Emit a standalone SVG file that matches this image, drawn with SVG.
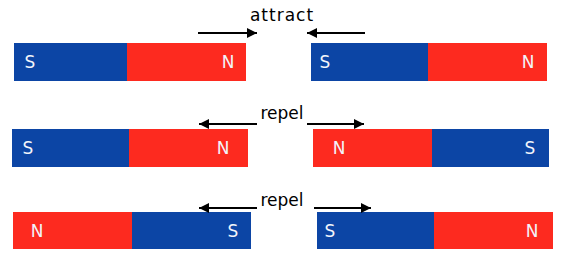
<svg xmlns="http://www.w3.org/2000/svg" width="564" height="265" viewBox="0 0 564 265">
<style>
.b{fill:#0c45a5}
.r{fill:#fd2a1f}
.p{fill:#f2f4fa;font-family:"DejaVu Sans","Liberation Sans",sans-serif;font-size:17px;text-anchor:middle}
.lbl{fill:#000;font-family:"DejaVu Sans","Liberation Sans",sans-serif;font-size:17px;text-anchor:middle}
.a{stroke:#000;stroke-width:2;fill:none;marker-end:url(#ah)}
</style>
<defs>
<marker id="ah" viewBox="0 0 10 10" refX="10" refY="5" markerWidth="5" markerHeight="5" orient="auto" markerUnits="strokeWidth">
<path d="M0,0 L10,5 L0,10 Z" fill="#000"/>
</marker>
</defs>
<g id="magnet-1a"><rect class="b" x="14" y="43" width="113" height="38"/><rect class="r" x="127" y="43" width="119" height="38"/><text class="p" x="30" y="68">S</text><text class="p" x="228" y="68">N</text></g>
<g id="magnet-1b"><rect class="b" x="311" y="43" width="117" height="38"/><rect class="r" x="428" y="43" width="119" height="38"/><text class="p" x="325" y="68">S</text><text class="p" x="528" y="68">N</text></g>
<g id="magnet-2a"><rect class="b" x="12" y="129" width="117" height="38"/><rect class="r" x="129" y="129" width="119" height="38"/><text class="p" x="28" y="154">S</text><text class="p" x="223" y="154">N</text></g>
<g id="magnet-2b"><rect class="r" x="313" y="129" width="119" height="38"/><rect class="b" x="432" y="129" width="117" height="38"/><text class="p" x="339" y="154">N</text><text class="p" x="530" y="154">S</text></g>
<g id="magnet-3a"><rect class="r" x="13" y="212" width="119" height="37"/><rect class="b" x="132" y="212" width="119" height="37"/><text class="p" x="37" y="237">N</text><text class="p" x="233" y="237">S</text></g>
<g id="magnet-3b"><rect class="b" x="317" y="212" width="117" height="37"/><rect class="r" x="434" y="212" width="119" height="37"/><text class="p" x="330" y="237">S</text><text class="p" x="532" y="237">N</text></g>
<g id="labels">
<text class="lbl" x="282" y="21" letter-spacing="1">attract</text>
<text class="lbl" x="282" y="119">repel</text>
<text class="lbl" x="282" y="206">repel</text>
</g>
<g id="connectors">
<line class="a" x1="198" y1="33" x2="257" y2="33"/>
<line class="a" x1="365" y1="33" x2="307" y2="33"/>
<line class="a" x1="257" y1="124" x2="199" y2="124"/>
<line class="a" x1="307" y1="124" x2="364" y2="124"/>
<line class="a" x1="257" y1="208" x2="199" y2="208"/>
<line class="a" x1="314" y1="208" x2="371" y2="208"/>
</g>
</svg>
